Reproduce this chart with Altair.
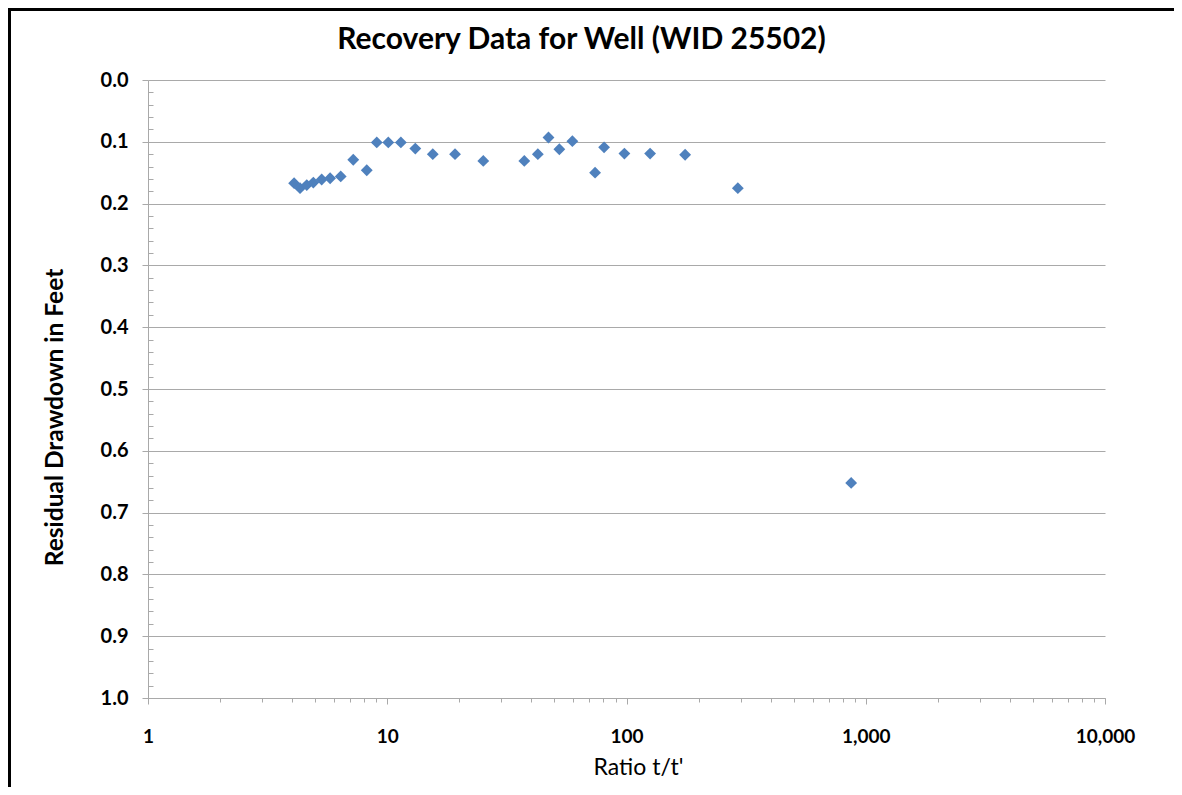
import altair as alt
import pandas as pd

# Data
ratio = [4.08, 4.32, 4.61, 4.91, 5.32, 5.77, 6.39, 7.21, 8.21, 9.04, 10.1, 11.4,
         13.1, 15.5, 19.2, 25.2, 37.4, 42.6, 47.2, 52.4, 59.4, 73.9, 80.6, 98.0,
         125.5, 175.8, 292.0, 869.0]
drawdown = [0.167, 0.175, 0.170, 0.166, 0.161, 0.159, 0.156, 0.129, 0.146, 0.101, 0.101, 0.101,
            0.111, 0.120, 0.120, 0.131, 0.131, 0.120, 0.093, 0.112, 0.099, 0.150, 0.109, 0.119,
            0.119, 0.121, 0.175, 0.652]

x_major = [1, 10, 100, 1000, 10000]
x_minor = [m * d for d in [1, 10, 100, 1000] for m in range(2, 10)]
y_major = [0.0, 0.1, 0.2, 0.3, 0.4, 0.5, 0.6, 0.7, 0.8, 0.9, 1.0]
y_minor = [round(i * 0.02, 2) for i in range(51) if i % 5 != 0]

df = pd.DataFrame({"ratio": ratio, "drawdown": drawdown})

W, H = 957, 618
PAD = {"left": 140, "top": 72, "right": 69, "bottom": 89}
GRID = "#a9a9a9"
FONT = "Lato"

xscale = alt.Scale(type="log", domain=[1, 10000], nice=False)
yscale = alt.Scale(domain=[0, 1], reverse=True, nice=False, zero=False)

points = alt.Chart(df).mark_point(
    shape="diamond", filled=True, color="#4f81bd", size=140, opacity=1
).encode(
    x=alt.X("ratio:Q", scale=xscale, axis=alt.Axis(
        values=x_major, format=",.0f", title="Ratio t/t'",
        titleFont=FONT, titleFontSize=23, titleFontWeight="normal", titleColor="#000",
        titleX=490, titleY=76, titleBaseline="alphabetic", titleAlign="center",
        labelFont=FONT, labelFontSize=19, labelFontWeight="bold", labelColor="#000",
        labelPadding=23, labelBaseline="top", labelFlush=False,
        tickSize=6, tickColor=GRID, domainColor=GRID, grid=False)),
    y=alt.Y("drawdown:Q", scale=yscale, axis=alt.Axis(
        values=y_major, format=".1f", title="Residual Drawdown in Feet",
        titleFont=FONT, titleFontSize=24.5, titleFontWeight="bold", titleColor="#000",
        titleX=-93, titleY=337, titleAngle=270, titleAlign="center", titleBaseline="middle",
        labelFont=FONT, labelFontSize=20, labelFontWeight="bold", labelColor="#000",
        labelPadding=14, labelFlush=False,
        tickSize=6, tickColor=GRID, domainColor=GRID,
        grid=True, gridColor=GRID, gridWidth=1.2)),
)

minor = alt.Chart(df).mark_point(opacity=0).encode(
    x=alt.X("ratio:Q", scale=xscale, axis=alt.Axis(
        values=x_minor, labels=False, domain=False, grid=False, title=None,
        tickSize=4, tickColor=GRID, orient="bottom")),
    y=alt.Y("drawdown:Q", scale=yscale, axis=alt.Axis(
        values=y_minor, labels=False, domain=False, grid=False, title=None,
        tickSize=5, tickColor=GRID, orient="right", offset=-W)),
)

# outer black frame of the original picture (top and left edges)
frame_top = alt.Chart().mark_rule(color="black", strokeWidth=3).encode(
    x=alt.value(-PAD["left"]), x2=alt.value(W + PAD["right"]), y=alt.value(-PAD["top"] + 1.5))
frame_left = alt.Chart().mark_rule(color="black", strokeWidth=3).encode(
    x=alt.value(-PAD["left"] + 1.5), y=alt.value(-PAD["top"]), y2=alt.value(H + PAD["bottom"]))

chart = alt.layer(points, minor, frame_top, frame_left).resolve_axis(
    x="independent", y="independent"
).properties(
    width=W, height=H,
    title=alt.Title("Recovery Data for Well (WID 25502)", font=FONT, fontSize=30,
                    fontWeight="bold", color="#000", anchor="middle", dx=-45,
                    offset=0, dy=48),
    autosize=alt.AutoSizeParams(type="none"),
    padding=PAD,
    background="white",
).configure_view(stroke=None)

chart.save("out.html", embed_options={"renderer": "svg", "actions": False})
